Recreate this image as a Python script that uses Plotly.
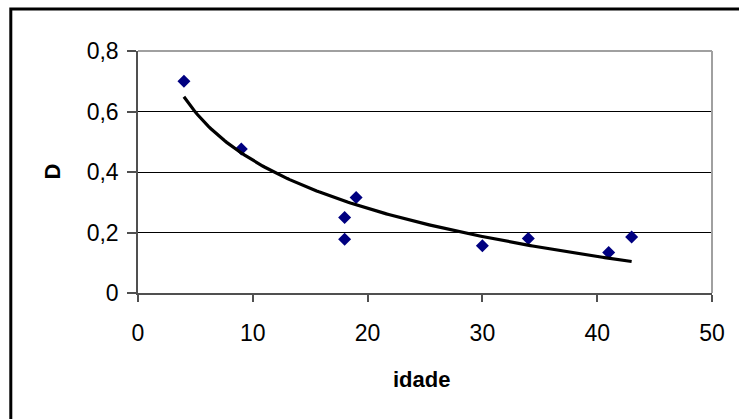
import numpy as np
import plotly.graph_objects as go

# Data
idade = [4, 9, 18, 18, 19, 30, 34, 41, 43]
D = [0.70, 0.476, 0.25, 0.178, 0.316, 0.156, 0.18, 0.134, 0.185]

x_ticks = [0, 10, 20, 30, 40, 50]
y_ticks = [0, 0.2, 0.4, 0.6, 0.8]

# Logarithmic trendline fitted to the data (as Excel does)
a, b = np.polyfit(np.log(idade), D, 1)
tx = np.linspace(min(idade), max(idade), 200)
ty = a * np.log(tx) + b

W, H = 739, 419
L, T = 138, 51
R = W - 712
B = H - 293
pw = W - L - R
ph = H - T - B

def px_x(p):
    return (p - L) / pw

def px_y(p):
    return (H - B - p) / ph

fig = go.Figure()
fig.add_trace(go.Scatter(
    x=idade, y=D, mode="markers",
    marker=dict(symbol="diamond", size=10, color="#000080", line=dict(width=0)),
    showlegend=False, hoverinfo="x+y"))
fig.add_trace(go.Scatter(
    x=tx, y=ty, mode="lines",
    line=dict(color="black", width=3.2),
    showlegend=False, hoverinfo="skip"))

axis_font = dict(family="Liberation Sans, Arial, sans-serif", size=23, color="black")

fig.update_layout(
    width=W, height=H,
    margin=dict(l=L, r=R, t=T, b=B, pad=0),
    paper_bgcolor="white", plot_bgcolor="white",
    separators=",.",
    font=axis_font,
    xaxis=dict(range=[0, 50], tickvals=x_ticks, showgrid=False, zeroline=False,
               showline=True, linecolor="#505050", linewidth=1.5,
               ticks="outside", ticklen=7, tickcolor="#505050", tickwidth=1.5,
               tickfont=axis_font, ticklabelstandoff=12),
    yaxis=dict(range=[0, 0.8], tickvals=y_ticks, showgrid=True, gridcolor="black",
               gridwidth=1, zeroline=False,
               showline=True, linecolor="#505050", linewidth=1.5,
               ticks="outside", ticklen=9, tickcolor="#505050", tickwidth=1.5,
               tickfont=axis_font, ticklabelstandoff=4),
    shapes=[
        # plot area top/right border (grey)
        dict(type="line", xref="paper", yref="paper", x0=0, x1=1, y0=1, y1=1,
             line=dict(color="#a0a0a0", width=2), layer="above"),
        dict(type="line", xref="paper", yref="paper", x0=1, x1=1, y0=0, y1=1,
             line=dict(color="#a0a0a0", width=2), layer="above"),
        # outer chart border (runs off the right and bottom edges)
        dict(type="rect", xref="paper", yref="paper",
             x0=px_x(10.8), x1=px_x(800), y0=px_y(480), y1=px_y(9),
             line=dict(color="black", width=3), fillcolor="rgba(0,0,0,0)", layer="above"),
    ],
    annotations=[
        dict(text="<b>idade</b>", xref="paper", yref="paper",
             x=px_x(421), y=px_y(379), xanchor="center", yanchor="middle",
             showarrow=False, font=dict(family="Liberation Sans, Arial, sans-serif", size=22, color="black")),
        dict(text="<b>D</b>", xref="paper", yref="paper",
             x=px_x(51.5), y=0.5, xanchor="center", yanchor="middle", textangle=-90,
             showarrow=False, font=dict(family="Liberation Sans, Arial, sans-serif", size=22, color="black")),
    ],
)

fig.write_html(
    "out.html",
    config={"displayModeBar": False},
    post_script="document.documentElement.style.overflow='hidden';"
                "document.body.style.margin='0';document.body.style.overflow='hidden';",
)
